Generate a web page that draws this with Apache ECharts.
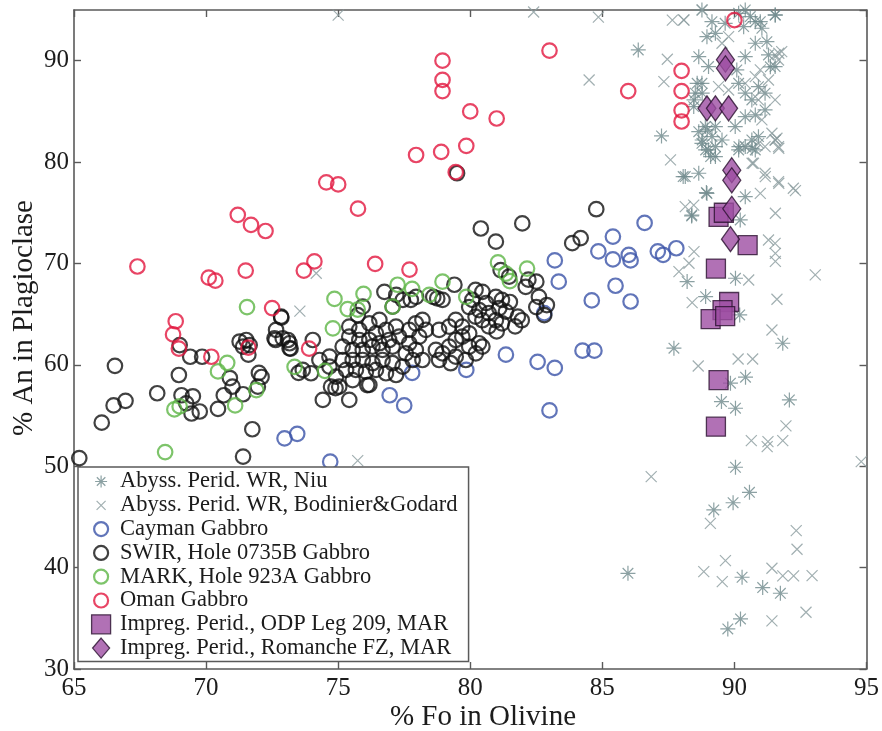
<!DOCTYPE html>
<html>
<head>
<meta charset="utf-8">
<script src="https://cdn.jsdelivr.net/npm/echarts@6/dist/echarts.min.js"></script>
<style>
  html, body { margin: 0; padding: 0; background: #fff; }
  #chart { width: 882px; height: 731px; }
</style>
</head>
<body>
<div id="chart"></div>
<script>
// Olivine Fo (%) vs plagioclase An (%) — [Fo, An] pairs per data set

const seriesNames = [
  'Abyss. Perid. WR, Niu',
  'Abyss. Perid. WR, Bodinier&Godard',
  'Cayman Gabbro',
  'SWIR, Hole 0735B Gabbro',
  'MARK, Hole 923A Gabbro',
  'Oman Gabbro',
  'Impreg. Perid., ODP Leg 209, MAR',
  'Impreg. Perid., Romanche FZ, MAR'
];

const xTicks = { min: 65, max: 95, step: 5 };
const yTicks = { min: 30, max: 95, step: 10 };

const niuWR = [
  [90.04,49.9],[90.57,47.43],[89.95,46.4],[89.22,45.69],[85.97,39.44],[90.29,39.05],[91.07,38.03],[91.74,37.47],[90.23,34.94],[89.75,33.95],
  [88.21,68.21],[90.04,68.54],[88.91,66.73],[90.2,64.92],[87.71,61.64],[91.83,62.13],[90.42,58.78],[89.85,58.19],[92.08,56.54],[89.51,56.38],[90.04,55.72],
  [86.36,91.06],[87.24,82.58],[88.06,78.57],[88.94,76.99],[88.38,74.69],[91.55,94.5],[91.36,89.4],[90.98,93.85],
  [88.77,95.0],[89.15,93.85],[89.28,92.7],[88.96,92.37],[89.65,93.69],[90.16,94.67],[90.41,95.0],[90.6,94.35],[90.35,93.36],[90.79,93.85],
  [91.04,93.2],[91.54,94.51],[90.79,91.72],[91.23,91.88],[91.29,90.57],[91.54,89.42],[90.41,90.4],[90.09,89.09],[88.65,90.4],[89.02,89.42],
  [88.77,87.77],[88.52,86.8],[88.46,85.47],[90.16,87.77],[90.41,86.8],[90.66,86.13],[90.91,87.44],[91.16,86.8],[90.41,84.48],[90.79,84.65],
  [91.16,85.14],[90.03,83.5],[89.15,82.51],[88.77,81.85],[89.02,81.2],[89.28,80.54],[88.65,78.9],[88.14,78.57],[90.41,81.53],[90.66,82.18],
  [90.91,82.51],[90.16,81.2],[90.79,81.2],[89.28,83.5],[89.53,82.18],[88.65,83.0],[88.9,83.5],
  [88.96,76.91],[90.41,76.59],[88.39,74.78],[90.22,74.29],
  [88.78,82.18],[88.91,81.2],[89.1,80.54],[89.28,81.52],[88.97,83.17],[88.59,87.77],[88.78,86.8],[88.47,86.13],[90.17,81.52],[90.67,81.36]
];

const bodinierWR = [
  [86.85,48.98],[89.09,44.37],[92.34,43.65],[92.37,41.81],[89.66,40.69],[88.84,39.61],[89.54,38.62],[91.42,39.94],[91.83,39.18],[92.24,39.18],[92.94,39.21],[92.71,35.6],[91.42,34.74],
  [88.28,70.02],[87.9,69.2],[88.47,71.17],[90.54,68.37],[93.06,68.87],[88.4,66.14],[91.61,66.47],[91.42,63.44],[90.14,60.58],[90.69,60.58],[88.63,59.89],
  [91.95,53.98],[90.64,52.53],[91.27,52.43],[91.83,52.53],[91.24,51.94],[91.55,71.0],[91.55,70.2],[94.8,50.46],
  [84.85,94.3],[84.5,88.1],[87.46,90.14],[87.65,94.0],[88.09,94.0],[88.78,95.0],[87.33,87.94],[87.58,80.21],[91.61,82.35],[91.68,90.73],
  [92.31,77.19],[91.68,77.91],[90.67,79.88],[91.55,74.95],[91.17,78.57],
  [75.0,94.5],[82.4,94.8],[73.55,65.3],[74.17,69.03],[75.74,50.55],
  [88.08,94.02],[91.54,90.57],[91.79,90.9],[91.67,90.07],[90.98,89.09],[91.29,88.1],[91.04,87.11],[91.54,86.13],[90.91,86.13],[91.42,82.84],
  [91.54,82.18],[91.16,81.53],[91.67,81.53],[90.72,79.88],[91.16,78.9],[91.67,78.07],[92.23,77.42],[90.79,88.43],[90.41,87.77],[89.4,87.44],
  [91.04,84.16],[89.78,87.11],[89.53,91.72],[89.78,92.37],
  [88.14,75.6],[88.46,75.76],[90.98,76.91],[91.29,72.31],[91.54,71.98],
  [90.42,81.52],[90.92,81.85],[91.55,82.18],[91.68,81.36]
];

const cayman = [
  [72.97,52.75],[73.45,53.2],[74.7,50.45],[76.95,57.0],[77.5,56.0],[77.8,59.2],[79.85,59.5],[81.35,61.0],[82.55,60.3],[83.2,59.7],
  [83.0,55.5],[83.2,70.3],[83.35,68.2],[82.8,65.1],[84.25,61.4],[84.7,61.4],[84.85,71.2],[85.4,70.4],[86.0,70.85],[86.07,70.3],
  [87.1,71.2],[87.3,70.85],[87.8,71.5],[85.5,67.8],[84.6,66.35],[86.07,66.25],[86.6,74.0],[85.4,72.65]
];

const swir = [
  [65.2,50.8],[66.05,54.3],[66.5,56.0],[66.95,56.45],[66.55,59.9],[68.15,57.2],[68.97,59.0],[69.0,61.95],[69.4,60.8],[69.85,60.8],
  [69.07,57.0],[69.5,56.9],[69.25,56.2],[69.45,55.2],[69.76,55.4],[70.45,55.65],[70.67,57.0],[70.9,58.7],[71.0,57.85],[71.4,57.1],
  [71.4,50.95],[71.75,53.65],[71.27,62.3],[71.52,62.45],[71.65,61.95],[71.4,61.8],[71.6,61.0],[72.0,59.2],[72.1,58.8],[71.96,57.85],
  [72.63,62.45],[72.85,64.65],[73.1,62.45],[73.2,61.6],[73.5,59.2],
  [80.4,73.45],[80.97,72.15],[81.97,73.95],[81.15,69.35],[81.47,68.7],[82.2,68.4],[82.5,68.2],[82.1,67.7],[82.6,66.7],[82.9,65.9],
  [82.5,65.7],[82.8,64.9],[81.8,64.75],[81.95,64.4],[81.7,63.8],[80.97,66.7],[81.2,66.4],[81.5,66.2],[81.1,65.6],[81.35,65.25],
  [80.97,64.4],[81.2,64.1],[81.0,63.3],[80.7,63.8],[80.2,67.4],[80.46,67.2],[80.08,66.4],[80.6,66.1],[80.34,65.4],[80.7,65.1],
  [80.46,64.4],[80.2,64.75],[79.96,65.7],[79.4,67.9],[78.95,66.4],[78.6,66.7],[78.75,66.55],[77.95,66.7],[77.75,66.4],[76.75,67.2],
  [77.2,66.9],[77.45,66.4],[77.06,65.75],[75.93,65.75],[75.74,64.9],
  [75.42,63.77],[75.8,63.44],[76.18,64.1],[76.56,64.43],[76.43,63.11],[76.81,63.44],[77.19,63.77],[76.93,62.45],[76.56,62.13],[76.18,62.45],
  [75.8,62.45],[75.42,62.78],[75.17,61.8],[75.55,61.47],[75.93,61.47],[76.3,61.8],[76.68,61.47],[77.06,61.8],[77.31,62.78],[77.69,63.44],
  [77.94,64.1],[78.19,64.43],[78.32,63.44],[78.07,62.78],[77.69,62.13],[77.94,61.47],[77.56,61.14],[77.82,60.48],[78.19,60.48],[77.44,59.83],
  [77.06,60.16],[76.68,60.48],[76.3,60.16],[75.93,60.48],[75.55,60.48],[75.17,60.48],[75.3,59.5],[75.67,59.5],[76.05,59.33],[76.43,59.5],
  [76.81,59.17],[77.19,59.0],[75.55,58.5],[76.18,58.02],[74.92,58.84],[74.67,59.83],[74.73,57.85],[75.04,57.85],[74.42,56.54],[75.42,56.54],
  [73.66,59.5],[73.97,59.17],[74.29,60.48],[74.67,60.81],[74.04,62.45],[73.16,62.13],[72.9,62.62],[72.59,62.62],[72.84,64.76],[72.65,63.44],
  [73.16,61.63],[78.82,63.44],[79.2,63.77],[79.45,64.43],[79.7,63.77],[79.96,63.11],[79.7,62.78],[79.45,62.45],[79.2,61.8],[78.95,61.14],
  [78.7,61.47],[79.96,61.8],[80.21,61.14],[79.45,60.81],[78.82,60.48],[79.26,60.16],[79.83,60.48],[80.33,62.13],[80.46,61.8],
  [84.77,75.35],[84.18,72.5],[83.86,72.0],[79.5,78.9],[76.1,58.0],[74.9,57.7]
];

const mark = [
  [68.45,51.4],[68.8,55.6],[69.0,55.9],[71.55,65.7],[70.8,60.2],[70.45,59.35],[71.1,56.0],[71.9,57.5],[73.35,59.8],[74.5,59.4],
  [74.8,63.6],[74.86,66.5],[75.36,65.5],[75.74,65.45],[75.96,67.0],[77.25,67.9],[77.06,65.75],[77.8,67.5],[78.45,66.9],[78.95,68.2],
  [79.85,66.7],[81.05,70.1],[81.35,69.0],[81.5,68.25],[82.15,69.5]
];

const oman = [
  [67.4,69.7],[68.85,64.3],[68.75,63.0],[68.97,61.6],[70.2,60.8],[70.1,68.6],[70.35,68.3],[71.5,69.3],[72.5,65.6],[71.6,61.7],
  [71.2,74.8],[71.7,73.8],[72.25,73.2],[78.95,90.0],[78.95,88.1],[78.95,87.0],[80.0,85.0],[81.0,84.3],[79.85,81.6],[78.9,81.0],
  [77.95,80.7],[79.45,79.0],[74.55,78.0],[75.0,77.8],[75.75,75.4],[83.0,91.0],[85.98,87.0],[88.0,89.0],[88.0,87.0],[88.0,85.1],
  [88.0,84.0],[90.0,94.0],[73.7,69.3],[74.1,70.2],[76.4,69.95],[77.7,69.4],[73.9,61.6]
];

const odp209 = [
  [89.4,74.6],[89.6,75.0],[90.5,71.8],[89.3,69.5],[89.8,66.2],[89.55,65.4],[89.1,64.5],[89.65,64.8],[89.4,58.5],[89.3,53.9]
];

const romanche = [
  [89.66,90.1],[89.66,89.25],[88.96,85.3],[89.28,85.3],[89.78,85.3],[89.9,79.2],[89.9,78.2],[89.9,75.4],[89.85,72.4]
];

// ---- styling ----
const serif = "'Liberation Serif', 'DejaVu Serif', serif";
const axisGray = '#5a5a5a';
const textCol = '#1c1c1c';
const niuCol = '#6f898c';
const bodCol = '#8a9b9d';
const blueCol = '#3a52a8';
const blackCol = '#111111';
const greenCol = '#5cb545';
const redCol = '#e2173f';
const purpleFill = '#9d4ea3';
const purpleEdge = '#2b1230';

const starPath = 'path://M0,5L10,5M5,0L5,10M1.46,1.46L8.54,8.54M8.54,1.46L1.46,8.54';
const crossPath = 'path://M0,0L10,10M10,0L0,10';

// legend icons live in a 28x20 box so each glyph keeps its own size
const box = 'M0,0M28,20';
const legendIcons = [
  'path://' + box + 'M8,10L20,10M14,4L14,16M9.76,5.76L18.24,14.24M18.24,5.76L9.76,14.24',
  'path://' + box + 'M9.5,5.5L18.5,14.5M18.5,5.5L9.5,14.5',
  'path://' + box + 'M7,10A7,7,0,1,1,21,10A7,7,0,1,1,7,10Z',
  'path://' + box + 'M7,10A7,7,0,1,1,21,10A7,7,0,1,1,7,10Z',
  'path://' + box + 'M7,10A7,7,0,1,1,21,10A7,7,0,1,1,7,10Z',
  'path://' + box + 'M7,10A7,7,0,1,1,21,10A7,7,0,1,1,7,10Z',
  'path://' + box + 'M4.5,0.5L23.5,0.5L23.5,19.5L4.5,19.5Z',
  'path://' + box + 'M14,0L22.5,10L14,20L5.5,10Z'
];
const legendBorder = [1.2, 1.2, 2.2, 2.2, 2.2, 2.2, 1.3, 1.3];

function circleSeries(name, data, color) {
  return {
    name, type: 'scatter', data,
    symbol: 'circle', symbolSize: 14.5,
    itemStyle: { color: 'rgba(0,0,0,0)', borderColor: color, borderWidth: 2.2 }
  };
}

const chart = echarts.init(document.getElementById('chart'), null, { renderer: 'canvas' });

const frameAxis = {
  type: 'value',
  axisLine: { show: true, onZero: false, lineStyle: { color: axisGray, width: 1.6 } },
  axisTick: { show: true, inside: true, length: 7, lineStyle: { color: axisGray, width: 1.4 } },
  splitLine: { show: false }
};

chart.setOption({
  animation: false,
  backgroundColor: '#ffffff',
  grid: { left: 74, right: 14, top: 10, bottom: 62, containLabel: false },
  xAxis: [
    Object.assign({}, frameAxis, {
      position: 'bottom', min: xTicks.min, max: xTicks.max, interval: xTicks.step,
      axisLabel: { fontFamily: serif, fontSize: 25, color: textCol, margin: 7 }
    }),
    Object.assign({}, frameAxis, {
      position: 'top', min: xTicks.min, max: xTicks.max, interval: xTicks.step,
      axisLabel: { show: false }
    })
  ],
  yAxis: [
    Object.assign({}, frameAxis, {
      position: 'left', min: yTicks.min, max: yTicks.max, interval: yTicks.step,
      axisLabel: { fontFamily: serif, fontSize: 25, color: textCol, margin: 5, showMaxLabel: false }
    }),
    Object.assign({}, frameAxis, {
      position: 'right', min: yTicks.min, max: yTicks.max, interval: yTicks.step,
      axisLabel: { show: false }
    })
  ],
  legend: {
    orient: 'vertical',
    left: 78, top: 467,
    padding: [3, 11, 2, 8],
    itemGap: 0.8,
    itemWidth: 28, itemHeight: 20,
    backgroundColor: '#ffffff',
    borderColor: axisGray, borderWidth: 1.5, borderRadius: 0,
    textStyle: { fontFamily: serif, fontSize: 22.5, color: textCol },
    selectedMode: false,
    data: seriesNames.map((n, i) => ({
      name: n, icon: legendIcons[i], itemStyle: { borderWidth: legendBorder[i] }
    }))
  },
  graphic: [
    {
      type: 'text', x: 483, y: 717,
      style: { text: '% Fo in Olivine', font: '29px ' + serif, fill: textCol, align: 'center', verticalAlign: 'middle' }
    },
    {
      type: 'text', x: 24, y: 318, rotation: Math.PI / 2,
      style: { text: '% An in Plagioclase', font: '29px ' + serif, fill: textCol, align: 'center', verticalAlign: 'middle' }
    }
  ],
  series: [
    {
      name: seriesNames[0], type: 'scatter', data: niuWR,
      symbol: starPath, symbolSize: 15,
      itemStyle: { color: 'rgba(0,0,0,0)', borderColor: niuCol, borderWidth: 1.2 }
    },
    {
      name: seriesNames[1], type: 'scatter', data: bodinierWR,
      symbol: crossPath, symbolSize: 11,
      itemStyle: { color: 'rgba(0,0,0,0)', borderColor: bodCol, borderWidth: 1.2 }
    },
    circleSeries(seriesNames[2], cayman, blueCol),
    circleSeries(seriesNames[3], swir, blackCol),
    circleSeries(seriesNames[4], mark, greenCol),
    circleSeries(seriesNames[5], oman, redCol),
    {
      name: seriesNames[6], type: 'scatter', data: odp209,
      symbol: 'rect', symbolSize: 19,
      itemStyle: { color: purpleFill, borderColor: purpleEdge, borderWidth: 1.3 }
    },
    {
      name: seriesNames[7], type: 'scatter', data: romanche,
      symbol: 'diamond', symbolSize: [18, 25],
      itemStyle: { color: purpleFill, borderColor: purpleEdge, borderWidth: 1.3 }
    }
  ]
});
</script>
</body>
</html>
